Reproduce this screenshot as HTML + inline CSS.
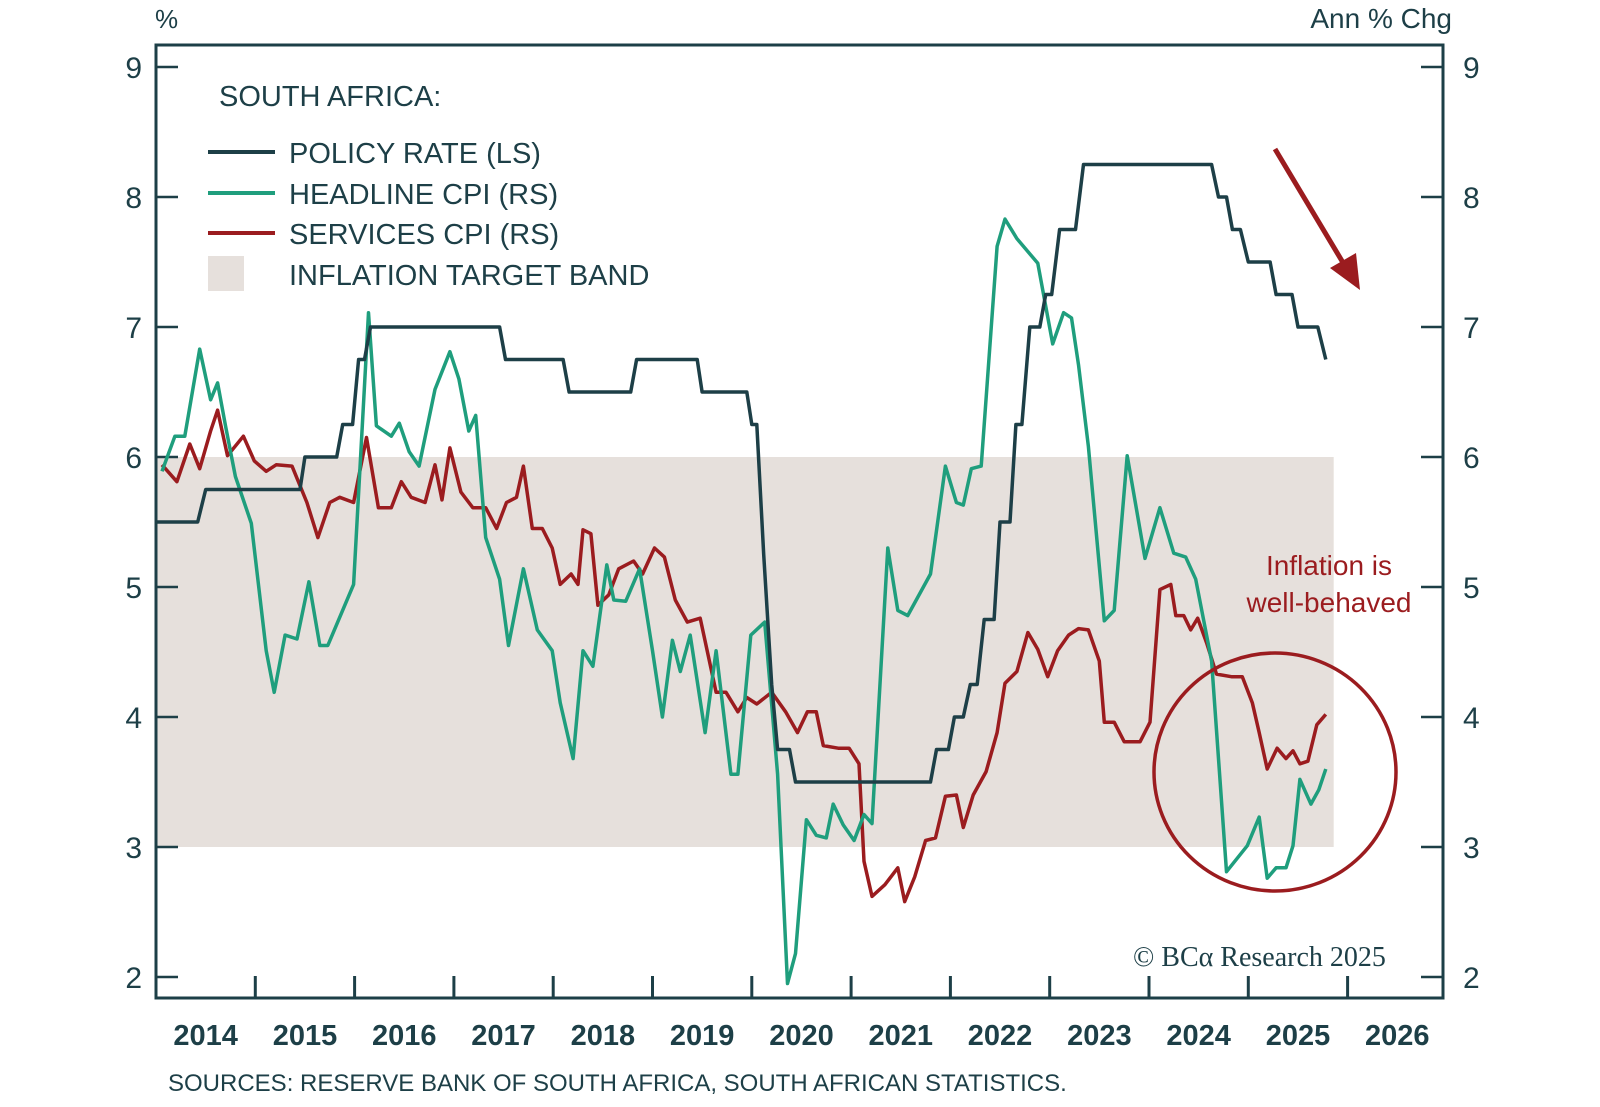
<!DOCTYPE html>
<html><head><meta charset="utf-8"><style>
body{margin:0;background:#fff;}
svg{display:block;font-family:"Liberation Sans",sans-serif;}
</style></head><body>
<svg id="chart" width="1600" height="1107" viewBox="0 0 1600 1107">
<g id="band"></g>
<g id="axes"></g>
<g id="series"></g>
<g id="legend">
<text x="219" y="106" font-size="29" fill="#1d3f47">SOUTH AFRICA:</text>
<line x1="208" y1="152" x2="275" y2="152" stroke="#1d3f47" stroke-width="4"/>
<text x="289" y="163" font-size="29" fill="#1d3f47">POLICY RATE (LS)</text>
<line x1="208" y1="193" x2="275" y2="193" stroke="#1f9e7d" stroke-width="4"/>
<text x="289" y="204" font-size="29" fill="#1d3f47">HEADLINE CPI (RS)</text>
<line x1="208" y1="233" x2="275" y2="233" stroke="#9b1c1f" stroke-width="4"/>
<text x="289" y="244" font-size="29" fill="#1d3f47">SERVICES CPI (RS)</text>
<rect x="208" y="256" width="36" height="35" fill="#e6e0dc"/>
<text x="289" y="285" font-size="29" fill="#1d3f47">INFLATION TARGET BAND</text>
</g>
<g id="annot">
<line x1="1275" y1="149" x2="1345" y2="266" stroke="#9b1c1f" stroke-width="5"/>
<polygon points="1360,290 1330,268 1356,253" fill="#9b1c1f"/>
<ellipse cx="1275" cy="772" rx="121" ry="119" fill="none" stroke="#9b1c1f" stroke-width="3.5"/>
<text x="1329" y="575" font-size="28" fill="#9b1c1f" text-anchor="middle">Inflation is</text>
<text x="1329" y="612" font-size="28" fill="#9b1c1f" text-anchor="middle">well-behaved</text>
<text x="1133" y="966" font-size="28" fill="#1d3f47" font-family="Liberation Serif, serif">© BCα Research 2025</text>
</g>
<text x="155" y="28" font-size="26" fill="#1d3f47">%</text>
<text x="1452" y="28" font-size="28" fill="#1d3f47" text-anchor="end">Ann % Chg</text>
<text x="168" y="1091" font-size="24" fill="#1d3f47">SOURCES: RESERVE BANK OF SOUTH AFRICA, SOUTH AFRICAN STATISTICS.</text>
</svg>
<script>
const yTicks=[2,3,4,5,6,7,8,9];
const yearLabels=[2014,2015,2016,2017,2018,2019,2020,2021,2022,2023,2024,2025,2026];
const bandRange=[3,6];
const bandDates=[2014,2025.86];
const policyDates=[2014.0,2014.42,2014.5,2015.45,2015.5,2015.82,2015.88,2015.98,2016.04,2016.1,2016.16,2017.46,2017.52,2018.1,2018.16,2018.78,2018.84,2019.45,2019.5,2019.95,2020.0,2020.05,2020.12,2020.2,2020.26,2020.38,2020.44,2021.8,2021.86,2021.98,2022.04,2022.13,2022.2,2022.27,2022.34,2022.44,2022.5,2022.6,2022.66,2022.72,2022.8,2022.9,2022.96,2023.02,2023.1,2023.26,2023.34,2024.63,2024.7,2024.78,2024.84,2024.92,2025.0,2025.22,2025.28,2025.44,2025.5,2025.7,2025.78];
const policyRates=[5.5,5.5,5.75,5.75,6.0,6.0,6.25,6.25,6.75,6.75,7.0,7.0,6.75,6.75,6.5,6.5,6.75,6.75,6.5,6.5,6.25,6.25,5.25,4.25,3.75,3.75,3.5,3.5,3.75,3.75,4.0,4.0,4.25,4.25,4.75,4.75,5.5,5.5,6.25,6.25,7.0,7.0,7.25,7.25,7.75,7.75,8.25,8.25,8.0,8.0,7.75,7.75,7.5,7.5,7.25,7.25,7.0,7.0,6.75];
const headlineDates=[2014.06,2014.19,2014.29,2014.44,2014.55,2014.62,2014.70,2014.80,2014.96,2015.11,2015.19,2015.30,2015.42,2015.54,2015.65,2015.73,2015.99,2016.14,2016.22,2016.37,2016.45,2016.55,2016.65,2016.81,2016.96,2017.05,2017.15,2017.22,2017.32,2017.46,2017.55,2017.70,2017.84,2017.99,2018.07,2018.20,2018.30,2018.40,2018.54,2018.61,2018.73,2018.87,2019.00,2019.10,2019.20,2019.28,2019.38,2019.53,2019.64,2019.79,2019.86,2019.99,2020.13,2020.26,2020.36,2020.44,2020.55,2020.65,2020.75,2020.82,2020.92,2021.03,2021.13,2021.21,2021.37,2021.47,2021.57,2021.80,2021.95,2022.06,2022.13,2022.21,2022.31,2022.47,2022.55,2022.67,2022.88,2023.03,2023.14,2023.22,2023.29,2023.39,2023.55,2023.65,2023.78,2023.96,2024.11,2024.25,2024.37,2024.47,2024.63,2024.78,2024.99,2025.11,2025.19,2025.28,2025.38,2025.45,2025.52,2025.63,2025.71,2025.78];
const headlineCPI=[5.89,6.16,6.16,6.83,6.44,6.57,6.24,5.85,5.49,4.51,4.19,4.63,4.60,5.04,4.55,4.55,5.02,7.11,6.24,6.16,6.26,6.04,5.93,6.52,6.81,6.60,6.20,6.32,5.38,5.06,4.55,5.14,4.67,4.51,4.11,3.68,4.51,4.39,5.17,4.90,4.89,5.14,4.51,4.00,4.59,4.35,4.63,3.88,4.51,3.56,3.56,4.63,4.73,3.56,1.95,2.18,3.21,3.09,3.07,3.33,3.17,3.05,3.25,3.18,5.30,4.82,4.78,5.10,5.93,5.65,5.63,5.91,5.93,7.62,7.83,7.68,7.49,6.87,7.11,7.07,6.71,6.08,4.74,4.82,6.01,5.22,5.61,5.26,5.23,5.06,4.43,2.81,3.01,3.23,2.76,2.84,2.84,3.01,3.52,3.33,3.44,3.60];
const servicesDates=[2014.06,2014.21,2014.34,2014.44,2014.55,2014.62,2014.72,2014.88,2014.99,2015.11,2015.21,2015.37,2015.52,2015.63,2015.75,2015.85,2015.99,2016.12,2016.24,2016.37,2016.47,2016.57,2016.71,2016.81,2016.88,2016.96,2017.07,2017.19,2017.32,2017.43,2017.53,2017.63,2017.70,2017.79,2017.89,2017.99,2018.07,2018.18,2018.25,2018.30,2018.38,2018.45,2018.56,2018.66,2018.81,2018.90,2019.02,2019.12,2019.23,2019.35,2019.48,2019.64,2019.74,2019.86,2019.95,2020.05,2020.20,2020.34,2020.46,2020.56,2020.65,2020.72,2020.87,2020.98,2021.08,2021.13,2021.21,2021.34,2021.47,2021.54,2021.64,2021.75,2021.85,2021.95,2022.06,2022.13,2022.23,2022.36,2022.47,2022.55,2022.67,2022.78,2022.88,2022.98,2023.08,2023.19,2023.29,2023.39,2023.50,2023.55,2023.65,2023.75,2023.91,2024.01,2024.11,2024.22,2024.27,2024.35,2024.42,2024.49,2024.58,2024.68,2024.83,2024.94,2025.04,2025.11,2025.19,2025.29,2025.38,2025.45,2025.52,2025.60,2025.69,2025.78];
const servicesCPI=[5.94,5.81,6.10,5.91,6.20,6.36,6.01,6.16,5.97,5.89,5.94,5.93,5.65,5.38,5.65,5.69,5.65,6.15,5.61,5.61,5.81,5.69,5.65,5.94,5.67,6.07,5.73,5.61,5.61,5.45,5.65,5.69,5.93,5.45,5.45,5.30,5.02,5.10,5.02,5.44,5.41,4.86,4.94,5.14,5.20,5.10,5.30,5.23,4.90,4.73,4.76,4.19,4.19,4.04,4.15,4.10,4.19,4.04,3.88,4.04,4.04,3.78,3.76,3.76,3.64,2.89,2.62,2.71,2.84,2.58,2.77,3.05,3.07,3.39,3.40,3.15,3.40,3.58,3.88,4.26,4.35,4.65,4.52,4.31,4.51,4.63,4.68,4.67,4.43,3.96,3.96,3.81,3.81,3.96,4.98,5.02,4.78,4.78,4.67,4.76,4.57,4.33,4.31,4.31,4.11,3.88,3.60,3.76,3.68,3.74,3.64,3.66,3.94,4.02];

const X0=156,X1=1443,YTOP=45,YBOT=998;
const xS=t=>156+(t-2014)*99.3;
const yS=v=>977-(v-2)*130;
const NS='http://www.w3.org/2000/svg';
function mk(tag,attrs,parent){const e=document.createElementNS(NS,tag);for(const k in attrs)e.setAttribute(k,attrs[k]);parent.appendChild(e);return e;}
const C='#1d3f47';
const b=mk('rect',{x:xS(bandDates[0]),y:yS(bandRange[1]),width:xS(bandDates[1])-xS(bandDates[0]),height:yS(bandRange[0])-yS(bandRange[1]),fill:'#e6e0dc'},document.getElementById('band'));


const ax=document.getElementById('axes');
const frame=mk('path',{d:`M${X0},${YBOT}V${YTOP}H${X1}V${YBOT}Z`,fill:'none',stroke:C,'stroke-width':3},ax);


yTicks.forEach(v=>{
  const y=yS(v);
  const t1=mk('line',{x1:X0,x2:X0+22,y1:y,y2:y,stroke:C,'stroke-width':2.5},ax);
  
  
  const t2=mk('line',{x1:X1-22,x2:X1,y1:y,y2:y,stroke:C,'stroke-width':2.5},ax);
  
  
  const l=mk('text',{x:142,y:y+11,'font-size':30,fill:C,'text-anchor':'end'},ax);l.textContent=v;
  
  
  const r=mk('text',{x:1463,y:y+11,'font-size':30,fill:C},ax);r.textContent=v;
  
  
});
yearLabels.forEach(yr=>{
  if(yr>2014){const t=mk('line',{x1:xS(yr),x2:xS(yr),y1:YBOT,y2:YBOT-22,stroke:C,'stroke-width':3},ax);
  
  }
  const l=mk('text',{x:xS(yr+0.5),y:1045,'font-size':29,'font-weight':'bold',fill:C,'text-anchor':'middle'},ax);l.textContent=yr;
  
  
});
const sg=document.getElementById('series');
function line(ds,vs,color,name){
  const p=mk('polyline',{points:ds.map((d,i)=>xS(d).toFixed(1)+','+yS(vs[i]).toFixed(1)).join(' '),fill:'none',stroke:color,'stroke-width':3.5,'stroke-linejoin':'round'},sg);
  
  
}
line(servicesDates,servicesCPI,'#9b1c1f','services-cpi-line');
line(headlineDates,headlineCPI,'#1f9e7d','headline-cpi-line');
line(policyDates,policyRates,'#1d3f47','policy-rate-line');
</script>
</body></html>
